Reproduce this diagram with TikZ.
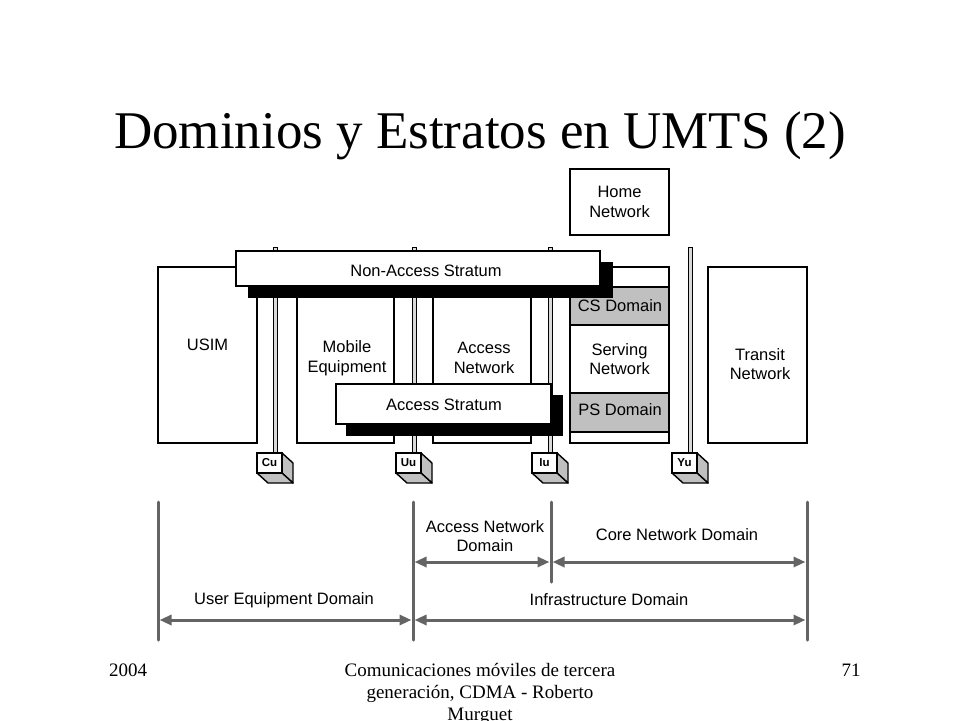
\documentclass[tikz,border=0pt]{standalone}
\usepackage{fontspec}
\setmainfont{Liberation Serif}
\newfontfamily\diafont{Liberation Sans}
\usepackage{tkz-euclide}
\usetikzlibrary{arrows.meta}
\definecolor{domgray}{RGB}{100,100,100}
\definecolor{cellgray}{RGB}{192,192,192}

% interface cube: name, x of its pole, label
\newcommand\ifacecube[3]{%
  \draw[cubeside] ({#2+7},453) -- ({#2+18},463) -- ({#2+18},483) -- ({#2+7},473) -- cycle;
  \draw[cubeside] ({#2-18},473) -- ({#2+7},473) -- ({#2+18},483) -- ({#2-7},483) -- cycle;
  \node[cubefront] (#1) at ({#2-5.5},463) {#3};
}

\begin{document}
\begin{tikzpicture}[x=1pt,y=-1pt,
                    >={Triangle[length=12pt,width=10pt]},
                    unit/.style={draw,line width=1.2,fill=white},
                    cell/.style={draw,line width=1.2,fill=cellgray},
                    lbl/.style={font=\diafont\fontsize{16.5}{19.5}\selectfont,align=center,inner sep=0},
                    pole/.style={draw,line width=0.9,fill=gray!30},
                    bar/.style={draw,line width=1.2,fill=white},
                    barshadow/.style={fill=black},
                    cubeside/.style={draw,line width=1.4,fill=cellgray,line join=round},
                    cubefront/.style={draw,line width=1.4,fill=white,minimum width=25,minimum height=20,
                                      inner sep=0,font=\diafont\bfseries\fontsize{11.5}{13}\selectfont},
                    dom/.style={draw=domgray,line width=3}]
                    \useasboundingbox (0,0) rectangle (960,720);

                    \node[anchor=base,font=\fontsize{53}{60}\selectfont] (title) at (480,148) {Dominios y Estratos en UMTS (2)};

                    % domains and networks
                    \draw[unit] (570,169) rectangle (669,235);
                    \node[lbl] (home) at (619.5,202) {Home\\Network};
                    \draw[unit] (158,267) rectangle (257,443);
                    \node[lbl] (usim) at (207.5,345) {USIM};
                    \draw[unit] (297,267) rectangle (394,443);
                    \node[lbl] (me) at (347,358) {Mobile\\Equipment};
                    \draw[unit] (433,267) rectangle (531,443);
                    \node[lbl] (an) at (484,358) {Access\\Network};
                    \draw[unit] (570,267) rectangle (669,443);
                    \draw[cell] (570,287) rectangle (669,325);
                    \draw[cell] (570,393) rectangle (669,432);
                    \node[lbl] (cs) at (620,306) {CS Domain};
                    \node[lbl] (sn) at (619.5,359) {Serving\\Network};
                    \node[lbl] (ps) at (620,410) {PS Domain};
                    \draw[unit] (708,267) rectangle (807,443);
                    \node[lbl] (tn) at (760,364) {Transit\\Network};

                    % reference points
                    \draw[pole] (273,247) rectangle (277,453);
                    \draw[pole] (412,247) rectangle (416,453);
                    \draw[pole] (548,247) rectangle (552,453);
                    \draw[pole] (688,247) rectangle (692,453);

                    % strata
                    \fill[barshadow] (248,262) rectangle (613,298);
                    \draw[bar] (236,251) rectangle (600,286);
                    \node[lbl] (nas) at (426,271) {Non-Access Stratum};
                    \fill[barshadow] (346,395) rectangle (563,436);
                    \draw[bar] (336,384) rectangle (551,424);
                    \node[lbl] (as) at (444,405) {Access Stratum};

                    \ifacecube{cu}{275}{Cu}
                    \ifacecube{uu}{414}{Uu}
                    \ifacecube{iu}{550}{Iu}
                    \ifacecube{yu}{690}{Yu}

                    % domain ranges
                    \tkzDefPoint(158,502){U1}
                    \tkzDefPoint(158,640){U2}
                    \tkzDefPoint(413,502){A1}
                    \tkzDefPoint(413,640){A2}
                    \tkzDefPoint(551,502){C1}
                    \tkzDefPoint(551,582){C2}
                    \tkzDefPoint(807,502){T1}
                    \tkzDefPoint(807,640){T2}
                    \tkzDrawSegments[dom](U1,U2 A1,A2 C1,C2 T1,T2)

                    \tkzDefPoint(413,562){P1}
                    \tkzDefPoint(551,562){P2}
                    \tkzDefPoint(807,562){P3}
                    \tkzDefPoint(158,620){Q1}
                    \tkzDefPoint(413,620){Q2}
                    \tkzDefPoint(807,620){Q3}
                    \tkzDrawSegments[dom,<->,shorten <=1.5pt,shorten >=1.5pt](P1,P2 P2,P3 Q1,Q2 Q2,Q3)

                    \node[lbl] (andom) at (485,536) {Access Network\\Domain};
                    \node[lbl] (cndom) at (677,535) {Core Network Domain};
                    \node[lbl] (uedom) at (284,600) {User Equipment Domain};
                    \node[lbl] (indom) at (609,600) {Infrastructure Domain};

                    % footer
                    \node[anchor=base,font=\fontsize{19}{22}\selectfont] (year) at (128,676) {2004};
                    \node[anchor=base,font=\fontsize{19}{22}\selectfont] (page) at (851,676) {71};
                    \node[anchor=north,align=center,inner sep=0,font=\fontsize{19}{22}\selectfont] (credit) at (480,663)
                         {Comunicaciones móviles de tercera\\generación, CDMA - Roberto\\Murguet};
                \end{tikzpicture}
\end{document}
